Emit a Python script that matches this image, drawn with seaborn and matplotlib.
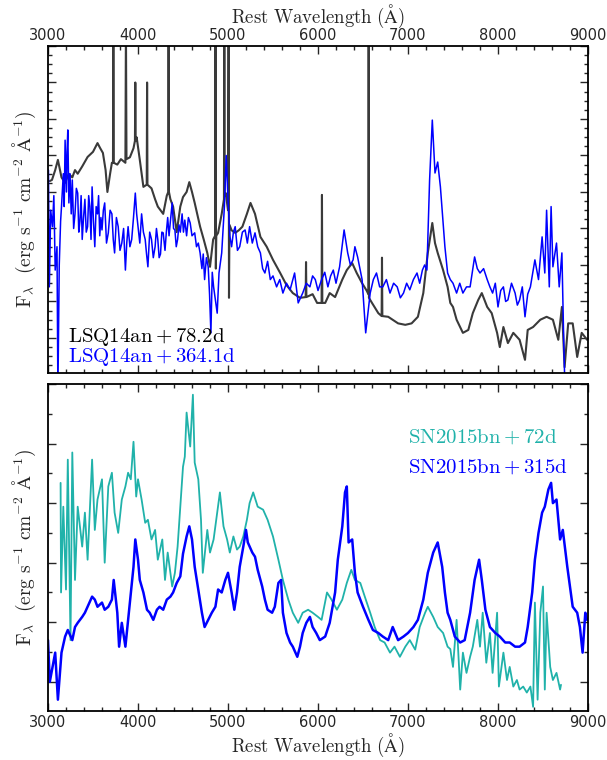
import numpy as np
import pandas as pd
import matplotlib
matplotlib.use("Agg")
import matplotlib.pyplot as plt
import seaborn as sns
from matplotlib.ticker import MultipleLocator, NullFormatter

# ---------------- data ----------------
# LSQ14an +78.2d (top panel, dark grey)
lsq_early_wave = [3020, 3044, 3080, 3110, 3150, 3190, 3230, 3270, 3300, 3330, 3380, 3440, 3500, 3550, 3580, 3610,
                  3640, 3660, 3690, 3710, 3722, 3726, 3731, 3770, 3810, 3860, 3866, 3872, 3910, 3950, 3966, 3970,
                  3974, 3985, 4020, 4060, 4097, 4101, 4105, 4150, 4190, 4220, 4280, 4320, 4336, 4340, 4344, 4360,
                  4390, 4430, 4470, 4500, 4540, 4570, 4600, 4630, 4690, 4730, 4770, 4800, 4835, 4857, 4861, 4865,
                  4870, 4890, 4930, 4955, 4959, 4963, 4975, 5000, 5007, 5011, 5016, 5040, 5080, 5120, 5160, 5210,
                  5250, 5300, 5360, 5430, 5500, 5580, 5650, 5720, 5800, 5863, 5867, 5871, 5940, 5990, 6040, 6044,
                  6048, 6080, 6130, 6190, 6270, 6320, 6380, 6430, 6490, 6540, 6560, 6563, 6566, 6600, 6670, 6707,
                  6711, 6715, 6780, 6890, 6970, 7040, 7110, 7170, 7220, 7270, 7300, 7330, 7390, 7440, 7470, 7500,
                  7540, 7610, 7670, 7720, 7780, 7820, 7880, 7930, 7990, 8020, 8060, 8110, 8170, 8240, 8300, 8330,
                  8390, 8470, 8540, 8610, 8670, 8710, 8740, 8780, 8830, 8880, 8930, 8990]
lsq_early_flux = [5.3, 5.33, 5.6, 5.88, 5.4, 5.25, 5.5, 5.4, 5.6, 5.5, 5.7, 5.96, 6.1, 6.34, 6.2, 6.07,
                  5.6, 5.0, 5.5, 5.8, 5.8, 9.6, 5.8, 5.75, 5.9, 5.8, 9.6, 5.9, 5.95, 6.2, 6.4, 8.0,
                  6.4, 6.5, 5.88, 5.14, 5.2, 8.0, 5.2, 5.1, 4.8, 4.6, 4.4, 4.9, 5.0, 9.6, 5.0, 4.8,
                  4.6, 3.9, 4.6, 4.86, 5.0, 5.27, 5.0, 4.7, 4.05, 3.7, 3.33, 2.95, 3.7, 3.8, 9.6, 2.9,
                  3.8, 3.88, 4.4, 4.8, 9.6, 4.9, 4.97, 4.5, 9.6, 2.1, 4.1, 3.95, 3.88, 3.95, 4.05, 4.4,
                  4.7, 4.4, 3.77, 3.5, 3.14, 2.78, 2.45, 2.23, 2.1, 2.12, 3.08, 2.12, 2.2, 1.96, 1.96, 4.92,
                  1.96, 1.96, 2.23, 2.12, 2.6, 2.86, 3.05, 2.78, 2.5, 2.3, 2.2, 9.6, 2.1, 1.96, 1.68, 1.6,
                  3.2, 1.6, 1.58, 1.4, 1.36, 1.4, 1.58, 2.23, 3.33, 4.15, 3.6, 3.33, 2.86, 2.4, 1.96, 1.85,
                  1.5, 1.14, 1.22, 1.68, 2.04, 2.23, 1.85, 1.68, 1.14, 0.75, 1.3, 0.86, 1.14, 0.95, 0.4, 1.22,
                  1.3, 1.5, 1.58, 1.5, 0.95, 1.85, 0.2, 1.4, 1.4, 0.48, 1.14, 0.95]

# LSQ14an +364.1d (top panel, blue)
lsq_late_wave = [3005, 3015, 3030, 3050, 3065, 3080, 3100, 3110, 3125, 3140, 3150, 3170, 3180, 3190, 3205, 3212,
                 3220, 3232, 3245, 3258, 3270, 3285, 3300, 3315, 3330, 3342, 3355, 3368, 3380, 3395, 3410, 3425,
                 3440, 3452, 3465, 3478, 3490, 3505, 3520, 3535, 3550, 3562, 3575, 3588, 3600, 3615, 3630, 3650,
                 3670, 3690, 3710, 3725, 3740, 3760, 3780, 3800, 3820, 3840, 3860, 3875, 3890, 3910, 3930, 3950,
                 3970, 3985, 4000, 4020, 4040, 4060, 4080, 4095, 4110, 4130, 4150, 4170, 4190, 4205, 4220, 4235,
                 4250, 4265, 4280, 4300, 4315, 4330, 4345, 4360, 4380, 4395, 4410, 4425, 4440, 4455, 4470, 4490,
                 4505, 4520, 4540, 4560, 4580, 4600, 4630, 4650, 4670, 4690, 4710, 4725, 4740, 4760, 4780, 4795,
                 4810, 4825, 4840, 4880, 4900, 4930, 4960, 4980, 5000, 5020, 5040, 5060, 5080, 5105, 5130, 5160,
                 5190, 5215, 5240, 5270, 5300, 5330, 5360, 5385, 5410, 5440, 5470, 5500, 5540, 5575, 5610, 5650,
                 5690, 5740, 5780, 5830, 5870, 5910, 5940, 5970, 6000, 6040, 6075, 6110, 6140, 6170, 6200, 6240,
                 6290, 6330, 6360, 6390, 6410, 6440, 6490, 6530, 6580, 6615, 6650, 6685, 6720, 6760, 6800, 6840,
                 6880, 6915, 6950, 6985, 7020, 7060, 7100, 7130, 7160, 7185, 7210, 7240, 7270, 7300, 7330, 7360,
                 7410, 7440, 7470, 7500, 7540, 7575, 7610, 7650, 7690, 7740, 7770, 7800, 7840, 7880, 7910, 7940,
                 7970, 8000, 8030, 8060, 8085, 8110, 8150, 8190, 8215, 8240, 8270, 8300, 8330, 8360, 8410, 8450,
                 8490, 8520, 8540, 8570, 8590, 8610, 8650, 8680, 8710, 8730, 8745]
lsq_late_flux = [5.6, 2.4, 4.5, 4.05, 4.9, 2.86, 3.5, -0.5, 3.0, 4.2, 4.6, 5.5, 4.6, 6.42, 5.0, 6.1,
                 6.7, 4.7, 5.5, 4.4, 5.33, 4.0, 4.4, 5.1, 4.97, 3.9, 4.2, 4.9, 3.7, 4.3, 4.8, 3.9,
                 4.05, 4.9, 4.6, 3.7, 5.14, 4.2, 3.5, 4.6, 4.4, 4.9, 3.8, 4.3, 3.96, 4.5, 4.7, 3.6,
                 3.88, 4.5, 4.4, 3.7, 3.33, 4.3, 4.05, 3.4, 3.6, 4.0, 2.86, 3.6, 4.05, 3.5, 3.7, 4.3,
                 4.97, 4.4, 4.05, 3.6, 4.4, 3.9, 3.7, 3.3, 2.95, 3.9, 3.7, 3.2, 3.5, 4.0, 3.7, 3.2,
                 3.3, 3.9, 3.88, 3.4, 3.9, 4.3, 3.8, 4.2, 4.7, 4.0, 3.96, 3.5, 3.7, 4.1, 3.9, 4.4,
                 3.9, 4.23, 3.8, 4.3, 4.15, 3.8, 3.88, 3.5, 3.6, 3.33, 2.9, 3.3, 2.6, 3.2, 2.95, 2.2,
                 1.14, 2.8, 2.4, 1.68, 2.78, 3.33, 4.6, 6.0, 4.8, 3.8, 3.5, 3.9, 4.05, 3.4, 3.5, 3.9,
                 3.96, 3.6, 4.05, 3.6, 3.88, 3.5, 3.33, 2.9, 2.78, 3.1, 2.6, 2.7, 2.4, 2.6, 2.23, 2.5,
                 2.32, 2.78, 1.96, 2.23, 2.5, 2.4, 2.7, 2.6, 2.3, 2.6, 2.8, 2.4, 2.7, 2.86, 2.5, 2.95,
                 3.96, 3.33, 3.0, 3.14, 3.5, 3.22, 2.6, 1.14, 2.23, 2.6, 2.78, 2.4, 2.4, 2.6, 2.23, 2.5,
                 2.4, 2.1, 2.23, 2.5, 2.32, 2.6, 2.78, 2.5, 2.86, 3.0, 2.86, 5.33, 6.97, 5.52, 5.82, 5.14,
                 3.5, 2.78, 2.6, 2.5, 2.23, 2.5, 2.23, 2.4, 2.4, 3.22, 2.9, 2.78, 2.9, 2.6, 2.4, 2.23,
                 2.5, 1.85, 2.3, 2.4, 2.0, 2.04, 2.5, 2.23, 1.9, 2.04, 2.4, 1.58, 2.2, 2.4, 3.14, 2.6,
                 3.77, 2.78, 4.5, 2.4, 4.6, 2.95, 3.6, 2.4, 3.33, 0.95, -0.5]

# SN2015bn +72d (bottom panel, teal)
sn_early_wave = [3140, 3145, 3170, 3200, 3220, 3250, 3270, 3300, 3330, 3380, 3410, 3440, 3490, 3520, 3550, 3600,
                 3630, 3670, 3710, 3740, 3780, 3820, 3860, 3890, 3920, 3950, 3980, 4000, 4040, 4080, 4110, 4150,
                 4190, 4220, 4270, 4300, 4330, 4380, 4410, 4440, 4470, 4500, 4520, 4540, 4580, 4610, 4630, 4670,
                 4700, 4720, 4770, 4800, 4840, 4880, 4910, 4950, 4990, 5020, 5060, 5100, 5130, 5170, 5210, 5240,
                 5280, 5330, 5390, 5440, 5500, 5560, 5610, 5670, 5720, 5780, 5830, 5890, 5940, 6000, 6040, 6100,
                 6150, 6210, 6270, 6320, 6370, 6410, 6470, 6520, 6580, 6630, 6690, 6740, 6800, 6850, 6910, 6970,
                 7020, 7080, 7130, 7190, 7220, 7280, 7330, 7390, 7440, 7470, 7500, 7540, 7580, 7610, 7650, 7690,
                 7720, 7770, 7800, 7830, 7870, 7910, 7940, 7990, 8010, 8060, 8100, 8130, 8170, 8210, 8240, 8280,
                 8320, 8360, 8390, 8410, 8440, 8470, 8500, 8520, 8540, 8580, 8610, 8650, 8690, 8700]
sn_early_flux = [4.34, 2.5, 3.94, 2.55, 4.73, 1.7, 4.85, 2.71, 3.94, 3.27, 3.84, 3.05, 4.73, 3.55, 4.06, 4.4,
                 3.0, 4.28, 4.51, 3.84, 3.5, 4.06, 4.28, 4.51, 4.4, 5.03, 4.11, 4.4, 4.06, 3.67, 3.72, 3.39,
                 3.55, 3.05, 3.39, 2.71, 3.17, 2.6, 2.83, 3.27, 3.94, 4.61, 4.78, 5.52, 4.95, 5.82, 4.68, 4.4,
                 3.72, 2.83, 3.55, 3.17, 3.39, 3.84, 4.18, 3.61, 3.39, 3.17, 3.44, 3.22, 3.27, 3.44, 3.72, 4.0,
                 4.18, 3.94, 3.89, 3.72, 3.44, 3.05, 2.71, 2.38, 2.16, 1.99, 2.16, 2.21, 2.16, 2.09, 2.04, 2.5,
                 2.38, 2.21, 2.38, 2.66, 2.88, 2.71, 2.66, 2.43, 2.16, 1.92, 1.7, 1.66, 1.49, 1.59, 1.42, 1.59,
                 1.7, 1.54, 1.92, 2.16, 2.26, 2.09, 1.92, 1.82, 1.59, 1.55, 1.25, 2.04, 0.87, 1.49, 1.15, 1.42,
                 1.59, 2.04, 1.59, 2.16, 1.32, 1.82, 1.15, 2.16, 0.92, 1.49, 1.03, 1.25, 0.92, 1.03, 0.87, 0.92,
                 0.82, 0.92, 0.58, 2.33, 0.7, 2.16, 2.6, 0.87, 2.16, 1.25, 1.03, 1.15, 0.87, 0.95]

# SN2015bn +315d (bottom panel, blue)
sn_late_wave = [3000, 3020, 3050, 3080, 3110, 3150, 3190, 3220, 3270, 3300, 3330, 3380, 3410, 3440, 3490, 3520,
                3550, 3600, 3630, 3670, 3710, 3730, 3770, 3790, 3820, 3860, 3890, 3920, 3950, 3970, 4000, 4020,
                4060, 4100, 4130, 4170, 4210, 4240, 4280, 4320, 4360, 4390, 4430, 4470, 4500, 4540, 4570, 4600,
                4630, 4670, 4710, 4740, 4780, 4820, 4860, 4890, 4930, 4970, 5000, 5040, 5070, 5100, 5130, 5170,
                5200, 5220, 5270, 5300, 5330, 5380, 5410, 5440, 5490, 5520, 5560, 5590, 5610, 5650, 5690, 5720,
                5770, 5800, 5830, 5870, 5910, 5940, 5980, 6020, 6080, 6130, 6190, 6220, 6270, 6300, 6320, 6340,
                6380, 6410, 6440, 6500, 6560, 6610, 6670, 6720, 6780, 6830, 6890, 6950, 7000, 7060, 7110, 7170,
                7220, 7280, 7330, 7380, 7410, 7440, 7470, 7520, 7580, 7630, 7690, 7740, 7790, 7820, 7860, 7910,
                7970, 8020, 8080, 8130, 8190, 8240, 8300, 8330, 8380, 8410, 8450, 8490, 8520, 8560, 8590, 8610,
                8650, 8690, 8720, 8770, 8800, 8830, 8880, 8910, 8940, 8970, 8990]
sn_late_flux = [1.7, 1.0, 1.25, 1.49, 0.7, 1.49, 1.76, 1.87, 1.7, 1.92, 1.99, 2.09, 2.16, 2.26, 2.43, 2.38,
                2.26, 2.33, 2.21, 2.26, 2.38, 2.71, 2.16, 1.59, 1.99, 1.59, 2.04, 2.5, 2.93, 3.39, 3.05, 2.71,
                2.5, 2.21, 2.16, 2.04, 2.21, 2.26, 2.21, 2.38, 2.43, 2.5, 2.66, 2.77, 3.15, 3.44, 3.61, 3.39,
                2.93, 2.55, 2.16, 1.92, 2.04, 2.16, 2.26, 2.55, 2.5, 2.71, 2.83, 2.5, 2.21, 2.5, 2.93, 3.27,
                3.55, 3.34, 3.17, 3.1, 2.88, 2.6, 2.38, 2.21, 2.16, 2.26, 2.66, 2.71, 2.16, 1.82, 1.66, 1.59,
                1.42, 1.59, 1.82, 1.99, 2.09, 1.92, 1.82, 1.7, 1.76, 1.99, 2.5, 3.05, 3.61, 4.18, 4.28, 3.34,
                3.39, 2.83, 2.5, 2.26, 2.04, 1.87, 1.82, 1.76, 1.7, 1.92, 1.7, 1.76, 1.82, 1.92, 2.04, 2.38,
                2.83, 3.17, 3.34, 2.93, 2.5, 2.16, 2.04, 1.76, 1.66, 1.7, 2.16, 2.71, 3.05, 2.71, 2.21, 1.92,
                1.82, 1.76, 1.66, 1.66, 1.59, 1.59, 1.66, 1.92, 2.5, 3.05, 3.5, 3.84, 3.94, 4.23, 4.34, 4.0,
                4.06, 3.39, 3.55, 2.93, 2.6, 2.26, 2.16, 1.92, 1.49, 2.16, 2.04]

top_labels = ["LSQ14an +78.2d", "LSQ14an +364.1d"]
bottom_labels = ["SN2015bn +72d", "SN2015bn +315d"]

# ---------------- style ----------------
sns.set_style("white")
plt.rcParams["font.family"] = ["DejaVu Sans"]
plt.rcParams["mathtext.fontset"] = "cm"

fig = plt.figure(figsize=(6.07, 7.60), dpi=100)
ax1 = fig.add_axes([48 / 607, 1 - 373 / 760, 540 / 607, 327 / 760])
ax2 = fig.add_axes([48 / 607, 1 - 711 / 760, 540 / 607, 327 / 760])

c_black = "#3a3a3a"
c_blue = "#0000ff"
c_teal = "#20b2aa"

sns.lineplot(x=lsq_early_wave, y=lsq_early_flux, ax=ax1, color=c_black, lw=1.5, sort=False, estimator=None)
sns.lineplot(x=lsq_late_wave, y=lsq_late_flux, ax=ax1, color=c_blue, lw=1.1, sort=False, estimator=None)
sns.lineplot(x=sn_early_wave, y=sn_early_flux, ax=ax2, color=c_teal, lw=1.3, sort=False, estimator=None)
sns.lineplot(x=sn_late_wave, y=sn_late_flux, ax=ax2, color=c_blue, lw=1.8, sort=False, estimator=None)

ax1.set_ylim(0.04, 9.0)
ax2.set_ylim(0.51, 6.0)

ylab = r'$\mathrm{F}_{\lambda}\ \ (\mathrm{erg\ s^{-1}\ cm^{-2}\ \AA^{-1}})$'
xlab = r'$\mathrm{Rest\ Wavelength\ (\AA)}$'

for ax, ymaj, ymin in [(ax1, 1.0, 0.25), (ax2, 1.0, 0.5)]:
    ax.set_xlim(3000, 9000)
    ax.xaxis.set_major_locator(MultipleLocator(1000))
    ax.xaxis.set_minor_locator(MultipleLocator(200))
    ax.yaxis.set_major_locator(MultipleLocator(ymaj))
    ax.yaxis.set_minor_locator(MultipleLocator(ymin))
    ax.yaxis.set_major_formatter(NullFormatter())
    ax.tick_params(which="both", direction="in", top=True, right=True, bottom=True, left=True,
                   labelsize=10.5, width=1.0, pad=3)
    ax.tick_params(which="major", length=6)
    ax.tick_params(which="minor", length=3)
    for s in ax.spines.values():
        s.set_linewidth(1.3)
        s.set_color("black")
    ax.set_ylabel(ylab, fontsize=14, labelpad=4)

ax1.tick_params(labelbottom=False, labeltop=True, pad=2)
ax1.xaxis.set_label_position("top")
ax1.set_xlabel(xlab, fontsize=13.5, labelpad=4)
ax2.set_xlabel(xlab, fontsize=13.5, labelpad=1)

def mt(s):
    a, b = s.split(" ")
    return r'$\mathrm{' + a + b + '}$'

ax1.text(0.037, 0.11, mt(top_labels[0]), transform=ax1.transAxes, color="black", fontsize=15, va="center")
ax1.text(0.037, 0.049, mt(top_labels[1]), transform=ax1.transAxes, color=c_blue, fontsize=15, va="center")
ax2.text(0.667, 0.838, mt(bottom_labels[0]), transform=ax2.transAxes, color=c_teal, fontsize=15, va="center")
ax2.text(0.667, 0.746, mt(bottom_labels[1]), transform=ax2.transAxes, color=c_blue, fontsize=15, va="center")

fig.savefig("out.png", dpi=100)
